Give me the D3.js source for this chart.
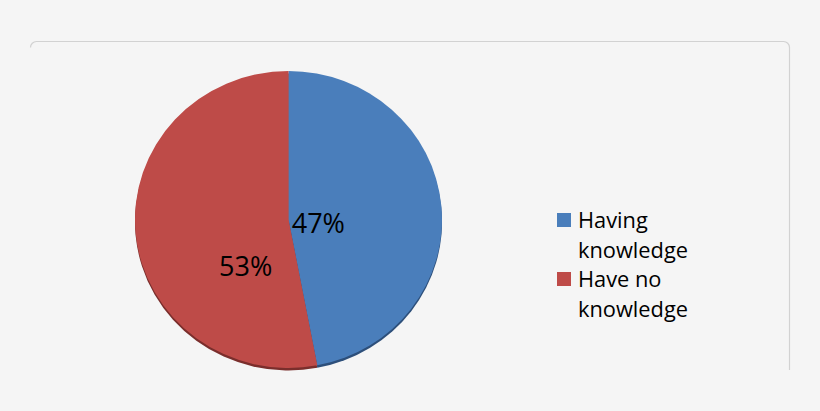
<!DOCTYPE html>
<html><head><meta charset="utf-8">
<script src="https://cdn.jsdelivr.net/npm/d3@7"></script>
<style>
html,body{margin:0;padding:0;background:#f5f5f5;}
svg{display:block;}
</style></head>
<body>
<svg id="chart" width="820" height="411"></svg>
<script>
const categories = ["Having knowledge", "Have no knowledge"];
const legendLines = [["Having", "knowledge"], ["Have no", "knowledge"]];
const values = [47, 53];
const labels = ["47%", "53%"];
const colors = ["#4a7ebb", "#be4b48"];
const rimColors = ["#2d4f7a", "#7a2e2c"];

const W = 820, H = 411;
const svg = d3.select("#chart");
svg.append("rect").attr("width", W).attr("height", H).attr("fill", "#f5f5f5");

// frame: top line with rounded corners, right side line
const fx0 = 30.5, fy0 = 41.5, fx1 = 789.5, fy1 = 370, rc = 6;
svg.append("path")
  .attr("d", `M${fx0},${fy0 + rc} A${rc},${rc} 0 0 1 ${fx0 + rc},${fy0} L${fx1 - rc},${fy0} A${rc},${rc} 0 0 1 ${fx1},${fy0 + rc} L${fx1},${fy1}`)
  .attr("fill", "none").attr("stroke", "#d2d2d2").attr("stroke-width", 1.2);

const cx = 288.5, cy = 219.5, rx = 153.5, ry = 148.5, R = 150;
const pie = d3.pie().sort(null).value(d => d)(values);
const arc = d3.arc().innerRadius(0).outerRadius(R);

// rim (3D edge)
const rim = svg.append("g").attr("transform", `translate(${cx},${cy + 2.5}) scale(${rx / R},${ry / R})`);
rim.selectAll("path").data(pie).join("path")
  .attr("d", arc).attr("fill", (d, i) => rimColors[i]);

const g = svg.append("g").attr("transform", `translate(${cx},${cy}) scale(${rx / R},${ry / R})`);
g.selectAll("path").data(pie).join("path")
  .attr("d", arc).attr("fill", (d, i) => colors[i]);

// percentage labels
const labelArc = d3.arc().innerRadius(R * 0.3).outerRadius(R * 0.3);
const nudge = [[-16, 18], [3, 52]];
svg.append("g").selectAll("text").data(pie).join("text")
  .attr("x", (d, i) => cx + labelArc.centroid(d)[0] * rx / R + nudge[i][0])
  .attr("y", (d, i) => cy + labelArc.centroid(d)[1] * ry / R + nudge[i][1])
  .attr("text-anchor", "middle")
  .attr("font-family", "'Open Sans', sans-serif")
  .attr("font-size", 27)
  .attr("fill", "#000")
  .text((d, i) => labels[i]);

// legend
const lg = svg.append("g").attr("transform", "translate(557,213)");
const items = lg.selectAll("g").data(categories).join("g")
  .attr("transform", (d, i) => `translate(0,${i * 59})`);
items.append("rect").attr("width", 14).attr("height", 14)
  .attr("fill", (d, i) => colors[i]);
items.each(function (d, i) {
  const t = d3.select(this).append("text")
    .attr("font-family", "'Open Sans', sans-serif")
    .attr("font-size", 21.8)
    .attr("fill", "#000");
  legendLines[i].forEach((ln, j) => {
    t.append("tspan").attr("x", 21).attr("y", 15 + j * 30).text(ln);
  });
});
</script>
</body></html>
